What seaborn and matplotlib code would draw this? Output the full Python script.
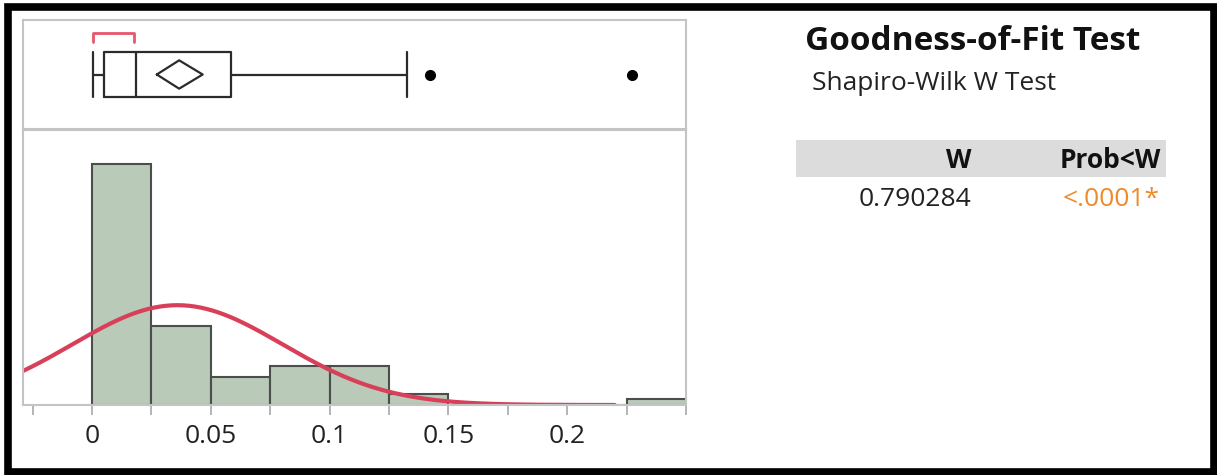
import numpy as np
import pandas as pd
import matplotlib
matplotlib.use("Agg")
import matplotlib.pyplot as plt
from matplotlib.patches import Rectangle
import seaborn as sns

# histogram (bin edges + counts)
bin_edges = [0.0, 0.025, 0.05, 0.075, 0.1, 0.125, 0.15, 0.175, 0.2, 0.225, 0.25]
counts = [43, 14, 5, 7, 7, 2, 0, 0, 0, 1]

# outlier box plot summary
q1, median, q3 = 0.0046, 0.018, 0.0575
whisker_lo, whisker_hi = 0.0, 0.131
outliers = [0.1405, 0.2245]
mean_val = 0.036
mean_ci = [0.0267, 0.0458]
shortest_half = [0.0, 0.017]

# fitted normal
std_val = 0.0443
curve_end = 0.22

tick_vals = [0, 0.05, 0.1, 0.15, 0.2]
tick_labels = ["0", "0.05", "0.1", "0.15", "0.2"]

test_name = "Shapiro-Wilk W Test"
w_stat = "0.790284"
p_value = "<.0001*"

sns.set_theme(style="white")
plt.rcParams['font.family'] = ['Open Sans', 'DejaVu Sans']

fig = plt.figure(figsize=(12.17, 4.75), dpi=100)
W, H = 1217, 475

def px_axes(x0, y0, x1, y1):
    return fig.add_axes([x0 / W, 1 - y1 / H, (x1 - x0) / W, (y1 - y0) / H])

ax_box = px_axes(23, 20, 686, 129)
ax_hist = px_axes(23, 130, 686, 405)

xlim = (-0.029, 0.247)
grey = "#c4c4c4"

# ---- histogram ----
centers = [(a + b) / 2 for a, b in zip(bin_edges[:-1], bin_edges[1:])]
hist_df = pd.DataFrame({"x": centers, "n": counts})
sns.histplot(data=hist_df, x="x", weights="n", bins=bin_edges, ax=ax_hist,
             color="#b9cab9", edgecolor="#4b4f4b", linewidth=1.5, alpha=1)

n_total = sum(counts)
bw = bin_edges[1] - bin_edges[0]
xs = np.linspace(xlim[0], curve_end, 300)
dens = n_total * bw * np.exp(-0.5 * ((xs - mean_val) / std_val) ** 2) / (std_val * np.sqrt(2 * np.pi))
sns.lineplot(x=xs, y=dens, ax=ax_hist, color="#d8405a", linewidth=3)

ax_hist.set_xlim(xlim)
ax_hist.set_ylim(0, 49)
ax_hist.set_yticks([])
ax_hist.set_xticks(np.arange(-0.025, 0.2501, 0.025), minor=True)
ax_hist.set_xticks(tick_vals)
ax_hist.set_xticklabels(tick_labels, fontsize=19, color="#222222")
ax_hist.tick_params(axis="x", which="both", direction="out", length=7.5, width=1.2,
                    color="#a8a8a8", bottom=True, pad=6)
ax_hist.set_xlabel("")
ax_hist.set_ylabel("")
for s in ax_hist.spines.values():
    s.set_color(grey)
    s.set_linewidth(1.5)

# ---- box plot ----
stats = [{"med": median, "q1": q1, "q3": q3, "whislo": whisker_lo,
          "whishi": whisker_hi, "fliers": outliers}]
line_kw = dict(color="#2b2b2b", linewidth=1.6)
ax_box.bxp(stats, positions=[0.5], widths=0.42, vert=False, showcaps=False,
           boxprops=line_kw, whiskerprops=line_kw, medianprops=line_kw,
           flierprops=dict(marker="o", markerfacecolor="black",
                           markeredgecolor="black", markersize=7))
# caps span the full box height
cap_h = 0.21
for xv in (whisker_lo, whisker_hi):
    ax_box.plot([xv, xv], [0.5 - cap_h, 0.5 + cap_h], **line_kw)

# mean diamond
dh = 0.13
ax_box.plot([mean_ci[0], mean_val, mean_ci[1], mean_val, mean_ci[0]],
            [0.5, 0.5 + dh, 0.5, 0.5 - dh, 0.5], color="#2b2b2b", linewidth=1.6)

# shortest half bracket
ax_box.plot([shortest_half[0], shortest_half[0], shortest_half[1], shortest_half[1]],
            [0.80, 0.885, 0.885, 0.80], color="#e8566c", linewidth=2)

ax_box.set_xlim(xlim)
ax_box.set_ylim(0, 1)
ax_box.set_xticks([])
ax_box.set_yticks([])
for s in ax_box.spines.values():
    s.set_color(grey)
    s.set_linewidth(1.5)

# ---- goodness-of-fit table ----
fig.text(805 / W, 1 - 50 / H, "Goodness-of-Fit Test", fontsize=24, fontweight="bold",
         ha="left", va="baseline", color="#111111")
fig.text(812 / W, 1 - 90 / H, test_name, fontsize=19, ha="left", va="baseline", color="#222222")
fig.patches.append(Rectangle((796 / W, 1 - 177 / H), (1166 - 796) / W, 37 / H,
                             transform=fig.transFigure, facecolor="#dcdcdc", edgecolor="none"))
fig.text(971 / W, 1 - 168 / H, "W", fontsize=19, fontweight="bold", ha="right", va="baseline",
         color="#111111")
fig.text(1161 / W, 1 - 168 / H, "Prob<W", fontsize=19, fontweight="bold", ha="right",
         va="baseline", color="#111111")
fig.text(971 / W, 1 - 206 / H, w_stat, fontsize=19, ha="right", va="baseline", color="#222222")
fig.text(1160 / W, 1 - 206 / H, p_value, fontsize=19, ha="right", va="baseline", color="#ef8a2a")

# outer black frame
fig.patches.append(Rectangle((8 / W, 3 / H), (1214 - 8) / W, (468 - 3) / H,
                             transform=fig.transFigure, facecolor="none",
                             edgecolor="black", linewidth=5.5))

fig.savefig("out.png", dpi=100)
